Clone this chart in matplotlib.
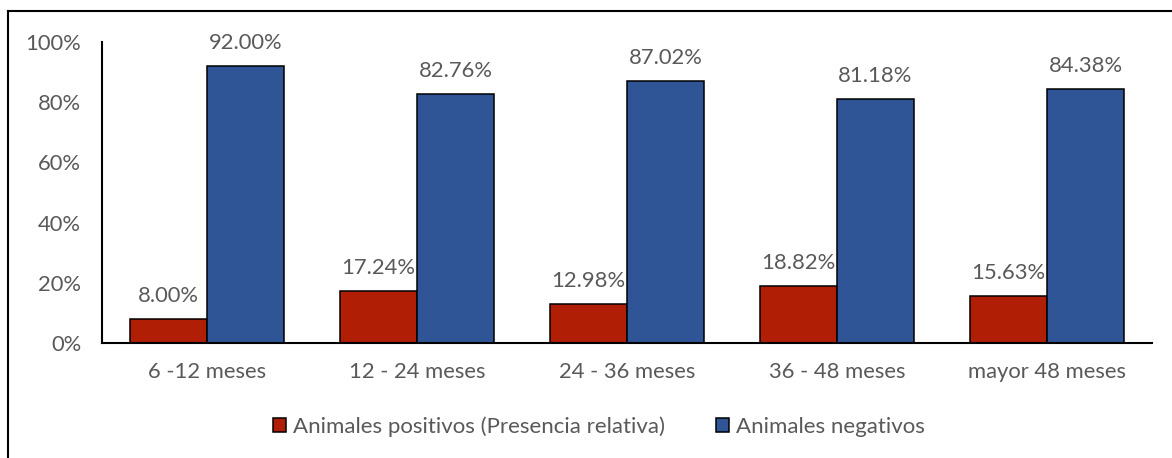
import matplotlib.pyplot as plt
import numpy as np
from matplotlib.lines import Line2D

# Data
categories = ['6 -12 meses', '12 - 24 meses', '24 - 36 meses', '36 - 48 meses', 'mayor 48 meses']
positivos = [8.00, 17.24, 12.98, 18.82, 15.63]
negativos = [92.00, 82.76, 87.02, 81.18, 84.38]

red = '#B01E06'
blue = '#2F5597'
grey_text = '#595959'

plt.rcParams['font.family'] = ['Lato', 'DejaVu Sans']

fig = plt.figure(figsize=(11.72, 4.58), dpi=100)
ax = fig.add_axes([102 / 1172, 1 - 343 / 458, 1050 / 1172, 301 / 458])

x = np.arange(len(categories))
width = 0.367

bars_pos = ax.bar(x - width / 2, positivos, width=width, color=red, edgecolor='black',
                  linewidth=1.1, label='Animales positivos (Presencia relativa)')
bars_neg = ax.bar(x + width / 2, negativos, width=width, color=blue, edgecolor='black',
                  linewidth=1.1, label='Animales negativos')

# value labels above each bar
for bars in [bars_pos, bars_neg]:
    for bar in bars:
        h = bar.get_height()
        ax.annotate(f'{h:.2f}%', (bar.get_x() + bar.get_width() / 2, h),
                    xytext=(0, 16.5), textcoords='offset points',
                    ha='center', va='center', fontsize=15.8, color=grey_text)

ax.set_xlim(-0.5, len(categories) - 0.5)
ax.set_ylim(0, 100)
ax.set_yticks(range(0, 101, 20))
ax.set_yticklabels([f'{v}%' for v in range(0, 101, 20)])
ax.set_xticks(x)
ax.set_xticklabels(categories)
ax.tick_params(length=0, labelsize=15.8, labelcolor=grey_text)
ax.tick_params(axis='y', pad=15)
ax.tick_params(axis='x', pad=14)

for side in ['top', 'right']:
    ax.spines[side].set_visible(False)
for side in ['left', 'bottom']:
    ax.spines[side].set_linewidth(1.5)
    ax.spines[side].set_color('black')

ax.legend(loc='center', bbox_to_anchor=(497 / 1050, -83.5 / 301), ncol=2, frameon=False,
          fontsize=16, labelcolor=grey_text, handlelength=0.6, handleheight=0.6,
          handletextpad=0.3, columnspacing=2.3, borderaxespad=0, borderpad=0)

# outer chart frame (left and top edges visible in the reference)
fig.add_artist(Line2D([8 / 1172, 8 / 1172], [0, 1 - 11 / 458], transform=fig.transFigure,
                      color='black', linewidth=1.5))
fig.add_artist(Line2D([8 / 1172, 1], [1 - 11 / 458, 1 - 11 / 458], transform=fig.transFigure,
                      color='black', linewidth=1.5))

plt.savefig('out.png', dpi=100)
